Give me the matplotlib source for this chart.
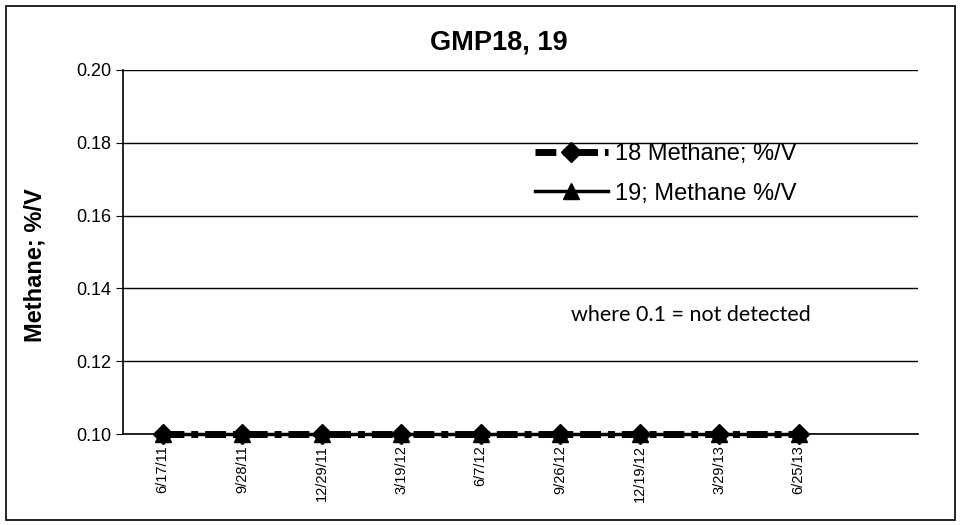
import matplotlib.pyplot as plt
from matplotlib.patches import Rectangle

plt.rcParams['font.family'] = ['Liberation Sans', 'DejaVu Sans']

dates = ['6/17/11', '9/28/11', '12/29/11', '3/19/12', '6/7/12',
         '9/26/12', '12/19/12', '3/29/13', '6/25/13']
methane_18 = [0.10, 0.10, 0.10, 0.10, 0.10, 0.10, 0.10, 0.10, 0.10]
methane_19 = [0.10, 0.10, 0.10, 0.10, 0.10, 0.10, 0.10, 0.10, 0.10]
y_ticks = [0.10, 0.12, 0.14, 0.16, 0.18, 0.20]

fig = plt.figure(figsize=(9.61, 5.25), dpi=100)
ax = fig.add_axes([0.128, 0.173, 0.827, 0.694])

# outer chart border
fig.patches.append(Rectangle((0.006, 0.01), 0.988, 0.978, transform=fig.transFigure,
                             fill=False, edgecolor='black', linewidth=1.2))

x = list(range(len(dates)))
ax.plot(x, methane_18, color='black', lw=5, ls=(0, (3, 1, 1, 1)), marker='D', ms=10,
        label='18 Methane; %/V', zorder=3, clip_on=False)
ax.plot(x, methane_19, color='black', lw=2.5, marker='^', ms=11,
        label='19; Methane %/V', zorder=4, clip_on=False)

ax.set_xlim(-0.5, 9.5)
ax.set_ylim(0.10, 0.20)
ax.set_yticks(y_ticks)
ax.set_yticklabels([f'{v:.2f}' for v in y_ticks], fontsize=13)
ax.set_xticks(x)
ax.set_xticklabels(dates, rotation=90, fontsize=10.5)
ax.tick_params(axis='x', length=4, pad=4)
ax.tick_params(axis='y', length=5)
ax.grid(axis='y', color='black', lw=1)
ax.set_axisbelow(True)
for s in ['top', 'right']:
    ax.spines[s].set_visible(False)
ax.spines['left'].set_linewidth(1.2)
ax.spines['bottom'].set_linewidth(1.2)

fig.text(0.519, 0.92, 'GMP18, 19', fontsize=19.5, fontweight='bold',
         ha='center', va='center')
fig.text(0.036, 1 - 265 / 525, 'Methane; %/V', fontsize=17, fontweight='bold',
         rotation=90, ha='center', va='center')

ax.legend(loc='center left', bbox_to_anchor=(0.518, 0.715), frameon=False,
          fontsize=17, handlelength=3.1, handletextpad=0.3, labelspacing=0.75,
          borderpad=0, borderaxespad=0)
ax.text(0.564, 0.327, 'where 0.1 = not detected', transform=ax.transAxes,
        fontsize=15.5, va='center', family=['Lato', 'DejaVu Sans'])

fig.savefig('out.png', dpi=100)
